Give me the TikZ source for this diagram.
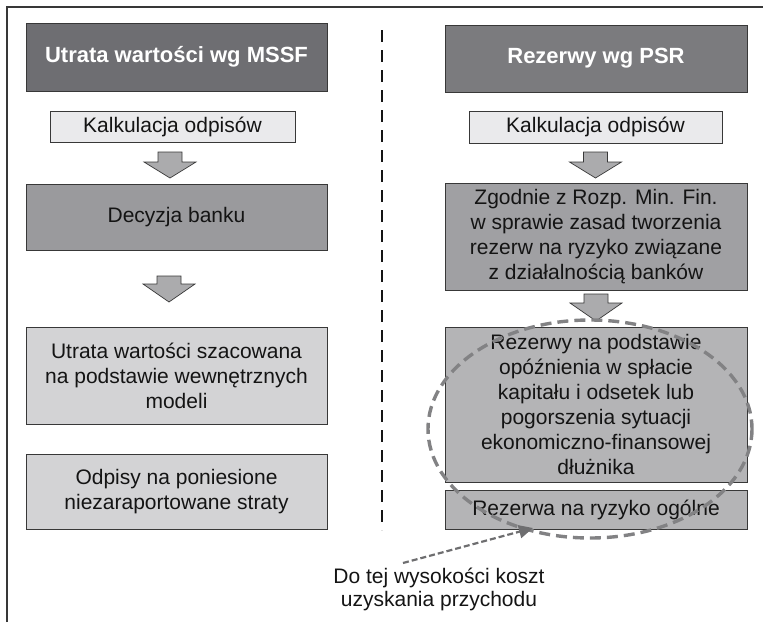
\documentclass[tikz,border=0pt]{standalone}
\usepackage{fontspec}
\setmainfont{Liberation Sans}
\usetikzlibrary{arrows.meta}
\definecolor{headL}{HTML}{6E6E72}
\definecolor{headR}{HTML}{7B7B7E}
\definecolor{calcfill}{HTML}{EAEAEC}
\definecolor{midfill}{HTML}{9A9A9D}
\definecolor{midfillR}{HTML}{A0A0A3}
\definecolor{lightfill}{HTML}{D3D3D5}
\definecolor{resfill}{HTML}{B4B4B6}
\definecolor{edge}{HTML}{383838}
\definecolor{arrowfill}{HTML}{ABABAD}
\definecolor{ringgray}{HTML}{828284}
\definecolor{inkc}{HTML}{141414}
\tikzset{
  panel/.style={draw=edge, line width=0.8pt, inner sep=0pt, align=center,
    text=inkc, font=\fontsize{21}{25}\selectfont},
  header/.style={panel, text=white, font=\fontsize{22}{25}\selectfont\bfseries},
  blockarrow/.style={fill=arrowfill, draw=edge, line width=0.7pt, line join=miter},
}
% block arrow pointing down: centre x, top y, shoulder y, tip y
\newcommand\blkarrow[4]{%
  \draw[blockarrow] (#1-12,#2) -- (#1+12,#2) -- (#1+12,#3) -- (#1+26,#3)
    -- (#1,#4) -- (#1-26,#3) -- (#1-12,#3) -- cycle;}
\begin{document}
\begin{tikzpicture}[x=1pt,y=-1pt]
\useasboundingbox (0,0) rectangle (763,622);
% partial frame
\draw[edge, line width=1.5pt] (7,622) -- (7,7) -- (763,7);

% left column
\node[header, fill=headL, minimum width=301, minimum height=68] (lhead) at (176.5,57) {Utrata wartości wg MSSF};
\node[panel, fill=calcfill, minimum width=245, minimum height=31] (lcalc) at (172.5,126.5) {Kalkulacja odpisów};
\node[panel, fill=midfill, minimum width=301, minimum height=66] (ldec) at (176.5,217) {Decyzja banku};
\node[panel, fill=lightfill, minimum width=301, minimum height=97] (lloss) at (176.5,375.5)
  {Utrata wartości szacowana\\na podstawie wewnętrznych\\modeli};
\node[panel, fill=lightfill, minimum width=301, minimum height=75] (lwrite) at (176.5,491.5)
  {Odpisy na poniesione\\niezaraportowane straty};
\blkarrow{170}{152}{162}{178}
\blkarrow{169}{276}{284}{302}

% divider
\draw[inkc, line width=2.6pt, dash pattern=on 12pt off 8pt] (382,30) -- (382,530);

% right column
\node[header, fill=headR, minimum width=302, minimum height=67] (rhead) at (596,58.5) {Rezerwy wg PSR};
\node[panel, fill=calcfill, minimum width=253, minimum height=32] (rcalc) at (595.5,127) {Kalkulacja odpisów};
\node[panel, fill=midfillR, minimum width=302, minimum height=107] (rreg) at (596,236.5)
  {Zgodnie z Rozp. Min. Fin.\\w sprawie zasad tworzenia\\rezerw na ryzyko związane\\z działalnością banków};
\node[panel, fill=resfill, minimum width=302, minimum height=155] (rspec) at (596,404.5)
  {Rezerwy na podstawie\\opóźnienia w spłacie\\kapitału i odsetek lub\\pogorszenia sytuacji\\ekonomiczno-finansowej\\dłużnika};
\node[panel, fill=resfill, minimum width=302, minimum height=39] (rgen) at (596,509.5) {Rezerwa na ryzyko ogólne};
\blkarrow{595.5}{152}{162}{178}
\blkarrow{596}{294}{303}{321}

% dashed ring round the two reserve boxes
\draw[ringgray, line width=3.4pt, dash pattern=on 11pt off 6pt] (590,429) ellipse [x radius=162, y radius=109];

% note with pointer
\node[align=center, text=inkc, font=\fontsize{21}{23}\selectfont] (note) at (439,589.5)
  {Do tej wysokości koszt\\uzyskania przychodu};
\coordinate (ptr) at (533,528);
\draw[ringgray!85!black, line width=2.2pt, dash pattern=on 6pt off 3pt,
  -{Triangle[length=14pt,width=13pt]}] (403,563) -- (ptr);
\end{tikzpicture}
\end{document}
